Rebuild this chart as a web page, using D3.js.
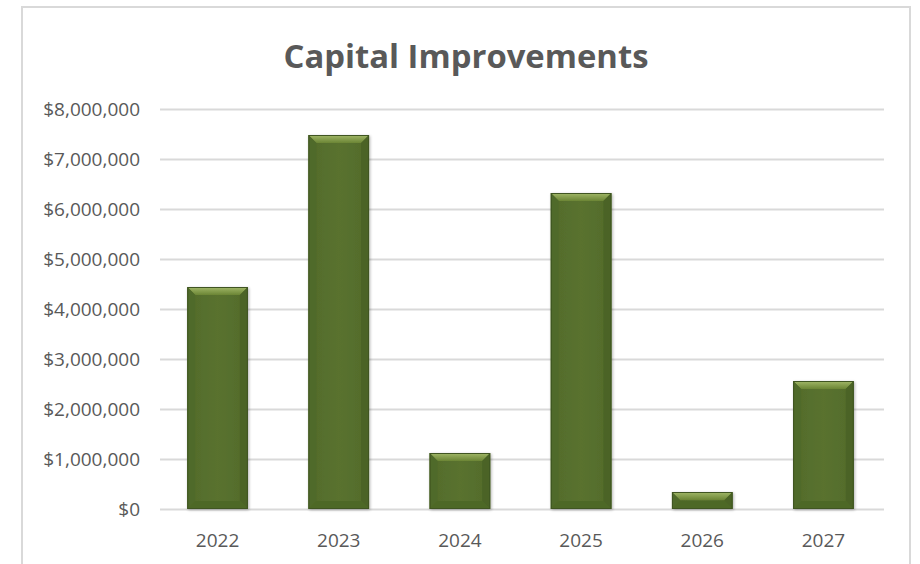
<!DOCTYPE html>
<html><head><meta charset="utf-8">
<script src="https://cdn.jsdelivr.net/npm/d3@7"></script>
<style>html,body{margin:0;padding:0;background:#fff;}</style>
</head><body><svg id="c" width="920" height="564"></svg>
<script>
const categories = ["2022","2023","2024","2025","2026","2027"];
const values = [4440000, 7480000, 1120000, 6320000, 340000, 2560000];
const yTicks = [0,1000000,2000000,3000000,4000000,5000000,6000000,7000000,8000000];
const title = "Capital Improvements";

const svg = d3.select("#c");
const W = 920, H = 564;
const m = {left:157, right:36, top:109, bottom:55};
svg.append("rect").attr("x",22).attr("y",7).attr("width",888).attr("height",H+10)
  .attr("fill","#fff").attr("stroke","#d9d9d9").attr("stroke-width",2);

const x = d3.scaleBand().domain(categories).range([m.left, W-m.right]).paddingInner(0.5).paddingOuter(0.25);
const y = d3.scaleLinear().domain([0,8000000]).range([509,109]);

const defs = svg.append("defs");
const g1 = defs.append("linearGradient").attr("id","face").attr("x1",0).attr("x2",1).attr("y1",0).attr("y2",0);
g1.append("stop").attr("offset","0%").attr("stop-color","#526b2b");
g1.append("stop").attr("offset","50%").attr("stop-color","#5a722f");
g1.append("stop").attr("offset","100%").attr("stop-color","#526b2b");
const g2 = defs.append("linearGradient").attr("id","topb").attr("x1",0).attr("x2",0).attr("y1",0).attr("y2",1);
g2.append("stop").attr("offset","0%").attr("stop-color","#a2b868");
g2.append("stop").attr("offset","100%").attr("stop-color","#6b8535");
const f = defs.append("filter").attr("id","sh").attr("x","-20%").attr("y","-20%").attr("width","140%").attr("height","140%");
f.append("feGaussianBlur").attr("in","SourceAlpha").attr("stdDeviation",1.5).attr("result","b");
f.append("feOffset").attr("in","b").attr("dx",1).attr("dy",1).attr("result","o");
f.append("feComponentTransfer").attr("in","o").attr("result","o2").append("feFuncA").attr("type","linear").attr("slope",0.3);
const mg = f.append("feMerge"); mg.append("feMergeNode").attr("in","o2"); mg.append("feMergeNode").attr("in","SourceGraphic");

const axisY = d3.axisLeft(y).tickValues(yTicks).tickSize(-724).tickPadding(20)
  .tickFormat(d => "$" + d3.format(",")(d));
const gy = svg.append("g").attr("transform",`translate(160,0)`).call(axisY);
gy.select(".domain").remove();
gy.selectAll(".tick line").attr("stroke","#d9d9d9").attr("stroke-width",2);
gy.selectAll(".tick text").attr("fill","#595959").attr("font-family","'Open Sans', sans-serif").attr("font-size",19).attr("dy","0.34em");

const axisX = d3.axisBottom(x).tickSize(0).tickPadding(25);
const gx = svg.append("g").attr("transform","translate(0,509)").call(axisX);
gx.select(".domain").remove();
gx.selectAll(".tick text").attr("fill","#595959").attr("font-family","'Open Sans', sans-serif").attr("font-size",19);

const bars = svg.append("g").selectAll("g.bar").data(categories.map((c,i)=>({c, v:values[i]}))).join("g").attr("class","bar").attr("filter","url(#sh)");
bars.each(function(d){
  const gg = d3.select(this);
  const x0 = x(d.c), bw = x.bandwidth(), y0 = y(d.v), y1 = y(0), b = 8;
  gg.append("rect").attr("x",x0).attr("y",y0).attr("width",bw).attr("height",y1-y0).attr("fill","url(#face)");
  gg.append("polygon").attr("points",`${x0},${y0} ${x0+bw},${y0} ${x0+bw-b},${y0+b} ${x0+b},${y0+b}`).attr("fill","url(#topb)");
  gg.append("polygon").attr("points",`${x0},${y0} ${x0+b},${y0+b} ${x0+b},${y1-b} ${x0},${y1}`).attr("fill","#506a29");
  gg.append("polygon").attr("points",`${x0+bw},${y0} ${x0+bw-b},${y0+b} ${x0+bw-b},${y1-b} ${x0+bw},${y1}`).attr("fill","#4b6426");
  gg.append("polygon").attr("points",`${x0},${y1} ${x0+b},${y1-b} ${x0+bw-b},${y1-b} ${x0+bw},${y1}`).attr("fill","#4e6728");
  gg.append("rect").attr("x",x0+0.5).attr("y",y0+0.5).attr("width",bw-1).attr("height",y1-y0-1).attr("fill","none").attr("stroke","#3f5522").attr("stroke-width",1);
});

svg.append("text").attr("x",466).attr("y",68).attr("text-anchor","middle")
  .attr("font-family","'Open Sans', sans-serif").attr("font-weight",700).attr("font-size",33)
  .attr("textLength",365).attr("lengthAdjust","spacingAndGlyphs")
  .attr("fill","#595959").text(title);
</script></body></html>
